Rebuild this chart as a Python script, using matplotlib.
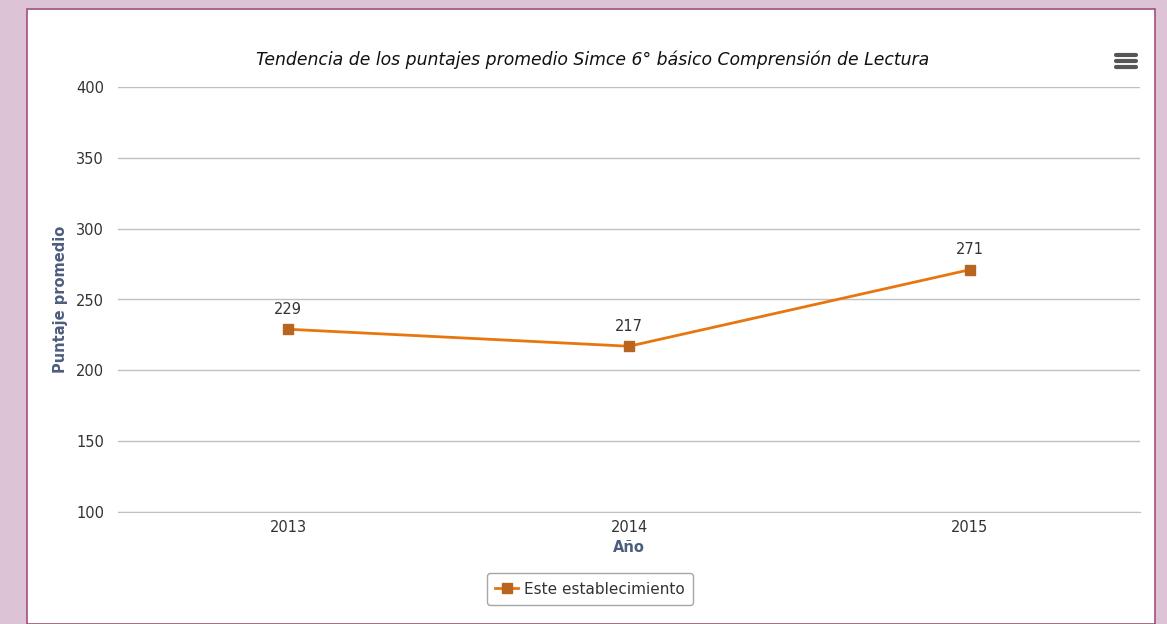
import matplotlib
matplotlib.use("Agg")
import matplotlib.pyplot as plt
from matplotlib.patches import Rectangle
from matplotlib.lines import Line2D

years = ["2013", "2014", "2015"]
scores = [229, 217, 271]
yticks = [100, 150, 200, 250, 300, 350, 400]

fig = plt.figure(figsize=(11.67, 6.24), dpi=100)
fig.patch.set_facecolor("#dcc3d6")

# white chart panel with thin magenta border
panel = Rectangle((27 / 1167, 0), (1155 - 27) / 1167, 1 - 9 / 624,
                  transform=fig.transFigure, facecolor="white",
                  edgecolor="#a0507a", linewidth=1.2, zorder=-10)
fig.patches.append(panel)

ax = fig.add_axes([118 / 1167, 1 - 512 / 624, (1140 - 118) / 1167, (512 - 87) / 624])
ax.set_facecolor("none")

x = list(range(len(years)))
ax.plot(x, scores, color="#e8760e", linewidth=2, marker="s", markersize=7,
        markerfacecolor="#b8651f", markeredgecolor="#b8651f",
        label="Este establecimiento", clip_on=False)
for xi, v in zip(x, scores):
    ax.annotate(str(v), (xi, v), xytext=(0, 9), textcoords="offset points",
                ha="center", va="bottom", fontsize=10.5, color="#333333")

ax.set_xlim(-0.5, 2.5)
ax.set_ylim(100, 400)
ax.set_yticks(yticks)
ax.set_xticks(x)
ax.set_xticklabels(years)
ax.grid(axis="y", color="#c0c0c0", linewidth=1)
ax.set_axisbelow(True)
for s in ["top", "right", "left"]:
    ax.spines[s].set_visible(False)
ax.spines["bottom"].set_color("#c0c0c0")
ax.tick_params(axis="y", length=0, pad=10, labelsize=10.5, labelcolor="#333333")
ax.tick_params(axis="x", length=0, pad=6, labelsize=10.5, labelcolor="#333333")

ax.set_xlabel("Año", fontsize=10.5, fontweight="bold", color="#4d5d7d", labelpad=3)
ax.set_ylabel("Puntaje promedio", fontsize=10.5, fontweight="bold", color="#4d5d7d", labelpad=6)

fig.text(593 / 1167, 1 - 60 / 624, "Tendencia de los puntajes promedio Simce 6° básico Comprensión de Lectura",
         ha="center", va="center", fontsize=12.4, style="italic", color="#111111")

# menu icon
for yy in [55, 61, 67]:
    fig.add_artist(Line2D([1116 / 1167, 1136 / 1167], [1 - yy / 624] * 2,
                          transform=fig.transFigure, color="#555555", linewidth=3,
                          solid_capstyle="round"))

leg = fig.legend(loc="center", bbox_to_anchor=(590 / 1167, 1 - 589 / 624),
                 frameon=True, fontsize=11, handlelength=1.5, handletextpad=0.4,
                 borderpad=0.55, fancybox=True)
leg.get_frame().set_edgecolor("#909090")
leg.get_frame().set_linewidth(1)
for t in leg.get_texts():
    t.set_color("#333333")

fig.savefig("out.png", dpi=100, facecolor=fig.get_facecolor())
